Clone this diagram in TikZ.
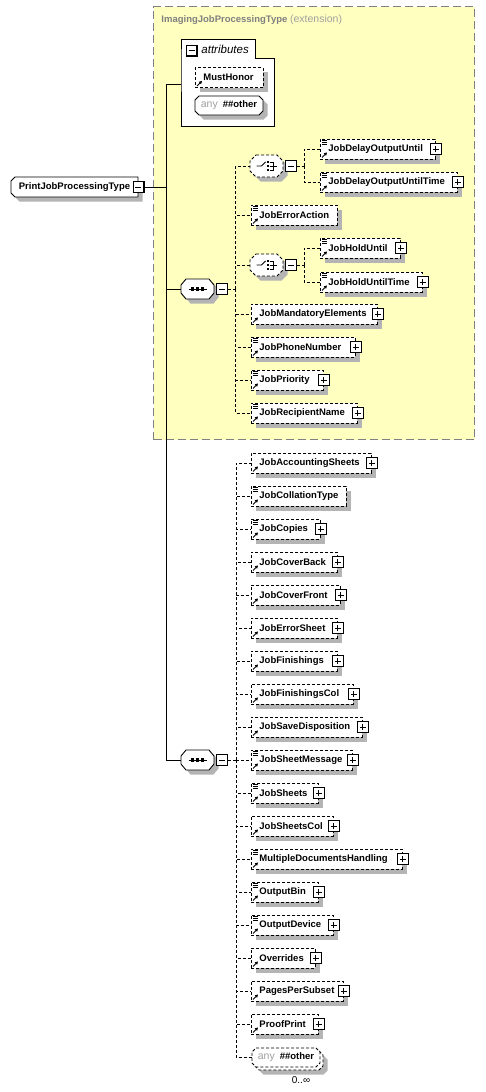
\documentclass[tikz,border=0pt]{standalone}
\usepackage{fontspec}
\setmainfont{Liberation Sans}
\usetikzlibrary{positioning,arrows.meta}

\definecolor{extyellow}{HTML}{FFFFC0}
\definecolor{extgray}{HTML}{808080}
\definecolor{anygray}{HTML}{A0A0A0}
\definecolor{shadowgray}{HTML}{B4B4B4}

\newcommand\elemfont{\fontsize{9.5}{11}\selectfont\bfseries}
\newcommand\attrfont{\fontsize{11.5}{13}\selectfont\itshape}
\newcommand\anytext{{\mdseries\fontsize{10.5}{12}\selectfont\color{anygray}any}\hspace{5pt}\#\#other}
% box with cut corners: cx, cy, half width, half height, left cut, right cut, vertical cut, offset
\newcommand\octpath[8]{({#1-#3+#5+#8},{#2-#4+#8}) -- ({#1+#3-#6+#8},{#2-#4+#8})
  -- ({#1+#3+#8},{#2-#4+#7+#8}) -- ({#1+#3+#8},{#2+#4-#7+#8})
  -- ({#1+#3-#6+#8},{#2+#4+#8}) -- ({#1-#3+#5+#8},{#2+#4+#8})
  -- ({#1-#3+#8},{#2+#4-#7+#8}) -- ({#1-#3+#8},{#2-#4+#7+#8}) -- cycle}

\tikzset{
  dl/.style={dash pattern=on 3pt off 2pt},
  shadowfill/.style={fill=shadowgray,draw=none},
  shadownode/.style={rectangle,fill=shadowgray,draw=none,minimum height=20,inner sep=0pt,anchor=north west},
  elem/.style={draw,dl,fill=white,rectangle,minimum height=20,inner xsep=8pt,inner ysep=0pt,align=left,font=\elemfont},
  textnode/.style={rectangle,minimum height=#1,inner sep=0pt,font=\elemfont},
  togglebox/.style={draw,fill=white,minimum size=11,inner sep=0pt,line width=0.9pt},
  minusbox/.style={togglebox,path picture={
    \draw[line width=1.6pt] (path picture bounding box.south west) -- (path picture bounding box.south east) -- (path picture bounding box.north east);
    \draw[line width=0.9pt] ([xshift=2.5pt]path picture bounding box.west) -- ([xshift=-2.5pt]path picture bounding box.east);}},
  plusbox/.style={togglebox,path picture={
    \draw[line width=1.6pt] (path picture bounding box.south west) -- (path picture bounding box.south east) -- (path picture bounding box.north east);
    \draw[line width=0.9pt] ([xshift=2.5pt]path picture bounding box.west) -- ([xshift=-2.5pt]path picture bounding box.east);
    \draw[line width=0.9pt] ([yshift=2.5pt]path picture bounding box.south) -- ([yshift=-2.5pt]path picture bounding box.north);}},
  extbox/.style={draw=extgray,fill=extyellow,dash pattern=on 8pt off 4pt,line width=1pt,minimum width=321,minimum height=433,inner sep=0pt},
  refarrow/.style={line width=0.9pt,-{Triangle[length=3pt,width=3.2pt]}}
}

\begin{document}
\begin{tikzpicture}[x=1pt,y=-1pt,line width=0.9pt]
 \useasboundingbox (0,0) rectangle (485,1092);

 %Extension
 \node[extbox,anchor=north west] (ext) at (153,6) {};
 \node[anchor=base west,inner sep=0pt,text=extgray,font=\elemfont] (exttitle) at (161,23)
   {ImagingJobProcessingType {\mdseries\fontsize{10.5}{12}\selectfont\color{anygray}(extension)}};

 %Attributes
 \draw[fill=white] (181,58) -- (181,39) -- (255,39) -- (255,58) -- (274,58) -- (274,126) -- (181,126) -- cycle;
 \node[minusbox] (attrminus) at (191.5,50.5) {};
 \node[anchor=west,inner sep=0pt,font=\attrfont] (attrtitle) at (201,49) {attributes};
 \coordinate (attrs) at (181,84);
 \node[shadownode,minimum width=68] (MustHonor-shadow) at (199.5,72) {};
 \node[elem,text width=52pt,anchor=west] (MustHonor) at (195,77.5) {MustHonor};
 \draw[refarrow] ([shift={(2,-2)}]MustHonor.south west) -- ++(5,-5);

 %Outlines
 \foreach \cx/\cy/\hw/\hh/\lx/\rx/\vc/\st/\sh in {74.5/187/63.5/10/4/0/4/solid/1, 229/105.5/34/9.5/4/4/4/solid/1,
   197.5/289/16.5/10/5/5/6/solid/1, 197.5/760/16.5/10/5/5/6/solid/1,
   266.5/166/16.5/11/6/6/6/dl/1, 266.5/265/16.5/11/6/6/6/dl/1,
   289/1060.5/34/9.5/4/4/4/dl/1, 286/1057.5/34/9.5/4/4/4/dl/0}{
  \ifnum\sh=1
   \fill[shadowfill] \octpath{\cx}{\cy}{\hw}{\hh}{\lx}{\rx}{\vc}{4.5};
  \fi
  \draw[\st,fill=white] \octpath{\cx}{\cy}{\hw}{\hh}{\lx}{\rx}{\vc}{0};
 }

 %Root
 \node[textnode=20,minimum width=127] (root) at (74.5,187) {PrintJobProcessingType};
 \node[minusbox] (rootminus) at (root.east) {};
 \node[textnode=19,minimum width=68] (anyattr) at (229,105.5) {\anytext};

 %Sequences and choices
 \node[textnode=20,minimum width=33] (seqone) at (197.5,289) {};
 \node[textnode=20,minimum width=33] (seqtwo) at (197.5,760) {};
 \node[textnode=22,minimum width=33] (chone) at (266.5,166) {};
 \node[textnode=22,minimum width=33] (chtwo) at (266.5,265) {};
 \node[textnode=19,minimum width=68] (anyelem) at (286,1057.5) {\anytext};
 \foreach \s in {seqone,seqtwo,chone,chtwo}
  \node[minusbox,anchor=west] (\s-minus) at ([xshift=2pt]\s.east) {};
 \foreach \s in {seqone,seqtwo}{
  \draw ([xshift=-9pt]\s.center) -- ([xshift=9pt]\s.center);
  \foreach \d in {-5,0,5}
   \fill ([xshift=\d pt]\s.center) +(-1.6,-1.6) rectangle +(1.6,1.6);
 }
 \foreach \c in {chone,chtwo}{
  \draw ([shift={(-10,0)}]\c.center) -- ([shift={(-5,0)}]\c.center) -- ([shift={(-1,-4)}]\c.center);
  \foreach \d in {-4,0,4}
   \fill ([shift={(1.5,\d)}]\c.center) +(-1.3,-1.3) rectangle +(1.3,1.3);
  \draw ([shift={(3,-4)}]\c.center) -- ([shift={(6.5,-4)}]\c.center) -- ([shift={(6.5,4)}]\c.center) -- ([shift={(3,4)}]\c.center);
  \draw ([shift={(3,0)}]\c.center) -- ([shift={(10,0)}]\c.center);
 }

 %Trunk
 \coordinate (trunktop) at (166,84);
 \coordinate (trunkbot) at (166,760);
 \draw (attrs) -- (trunktop) -- (trunkbot) -- (seqtwo.west);
 \draw (rootminus.east) -- (rootminus.east -| trunktop);
 \draw (seqone.west) -- (seqone.west -| trunktop);

 %Elements
 \foreach \elname/\xx/\yy/\rgt/\hasdoc/\hasplus in {
   JobDelayOutputUntil/320/149/435/1/1, JobDelayOutputUntilTime/320/182/457/1/1,
   JobErrorAction/251/215/337/1/0,
   JobHoldUntil/320/248/400/1/1, JobHoldUntilTime/320/282/422/1/1,
   JobMandatoryElements/251/314/377/0/1, JobPhoneNumber/251/347/355/1/1,
   JobPriority/251/380/323/1/1, JobRecipientName/251/413/357/1/1,
   JobAccountingSheets/251/463/371/0/1, JobCollationType/251/496/346/1/0,
   JobCopies/251/529/320/1/1, JobCoverBack/251/562/337/0/1,
   JobCoverFront/251/595/340/0/1, JobErrorSheet/251/628/337/0/1,
   JobFinishings/251/661/337/0/1, JobFinishingsCol/251/694/353/0/1,
   JobSaveDisposition/251/727/362/0/1, JobSheetMessage/251/760/352/1/1,
   JobSheets/251/793/318/1/1, JobSheetsCol/251/826/333/0/1,
   MultipleDocumentsHandling/251/859/402/1/1, OutputBin/251/892/318/1/1,
   OutputDevice/251/925/333/1/1, Overrides/251/958/315/0/1,
   PagesPerSubset/251/991/343/0/1, ProofPrint/251/1024/318/0/1}{
  \pgfmathsetmacro\tw{\rgt-\xx-16}
  \pgfmathsetmacro\bw{\rgt-\xx}
  \node[shadownode,minimum width=\bw pt] (\elname-shadow) at ({\xx+4.5},{\yy-10+4.5}) {};
  \node[elem,text width=\tw pt,anchor=west] (\elname) at (\xx,\yy) {\elname};
  \draw[refarrow] ([shift={(2,-2)}]\elname.south west) -- ++(5,-5);
  \ifnum\hasdoc=1
   \foreach \k in {2,4,6}
    \draw[line width=0.7pt] ([shift={(2,\k)}]\elname.north west) -- ++(5,0);
  \fi
  \ifnum\hasplus=1
   \node[plusbox] (\elname-plus) at (\elname.east) {};
  \fi
 }

 %Occurrence
 \node[inner sep=0pt,font=\fontsize{10}{12}\selectfont] (occurs) at (301,1080) {0..∞};

 %Connectors
 \coordinate (chonefork) at (304,166);
 \coordinate (chtwofork) at (304,265);
 \coordinate (seqonefork) at (235.5,289);
 \coordinate (seqtwofork) at (236,760);
 \draw[dl] (chone-minus.east) -- (chonefork);
 \draw[dl] (chtwo-minus.east) -- (chtwofork);
 \draw[dl] (seqone-minus.east) -- (seqonefork);
 \draw[dl] (seqtwo-minus.east) -- (seqtwofork);
 \foreach \t in {JobDelayOutputUntil,JobDelayOutputUntilTime}
  \draw[dl] (chonefork) |- (\t.west);
 \foreach \t in {JobHoldUntil,JobHoldUntilTime}
  \draw[dl] (chtwofork) |- (\t.west);
 \foreach \t in {chone,JobErrorAction,chtwo,JobMandatoryElements,JobPhoneNumber,JobPriority,JobRecipientName}
  \draw[dl] (seqonefork) |- (\t.west);
 \foreach \t in {JobAccountingSheets,JobCollationType,JobCopies,JobCoverBack,JobCoverFront,JobErrorSheet,
   JobFinishings,JobFinishingsCol,JobSaveDisposition,JobSheetMessage,JobSheets,JobSheetsCol,
   MultipleDocumentsHandling,OutputBin,OutputDevice,Overrides,PagesPerSubset,ProofPrint,anyelem}
  \draw[dl] (seqtwofork) |- (\t.west);

\end{tikzpicture}
\end{document}
